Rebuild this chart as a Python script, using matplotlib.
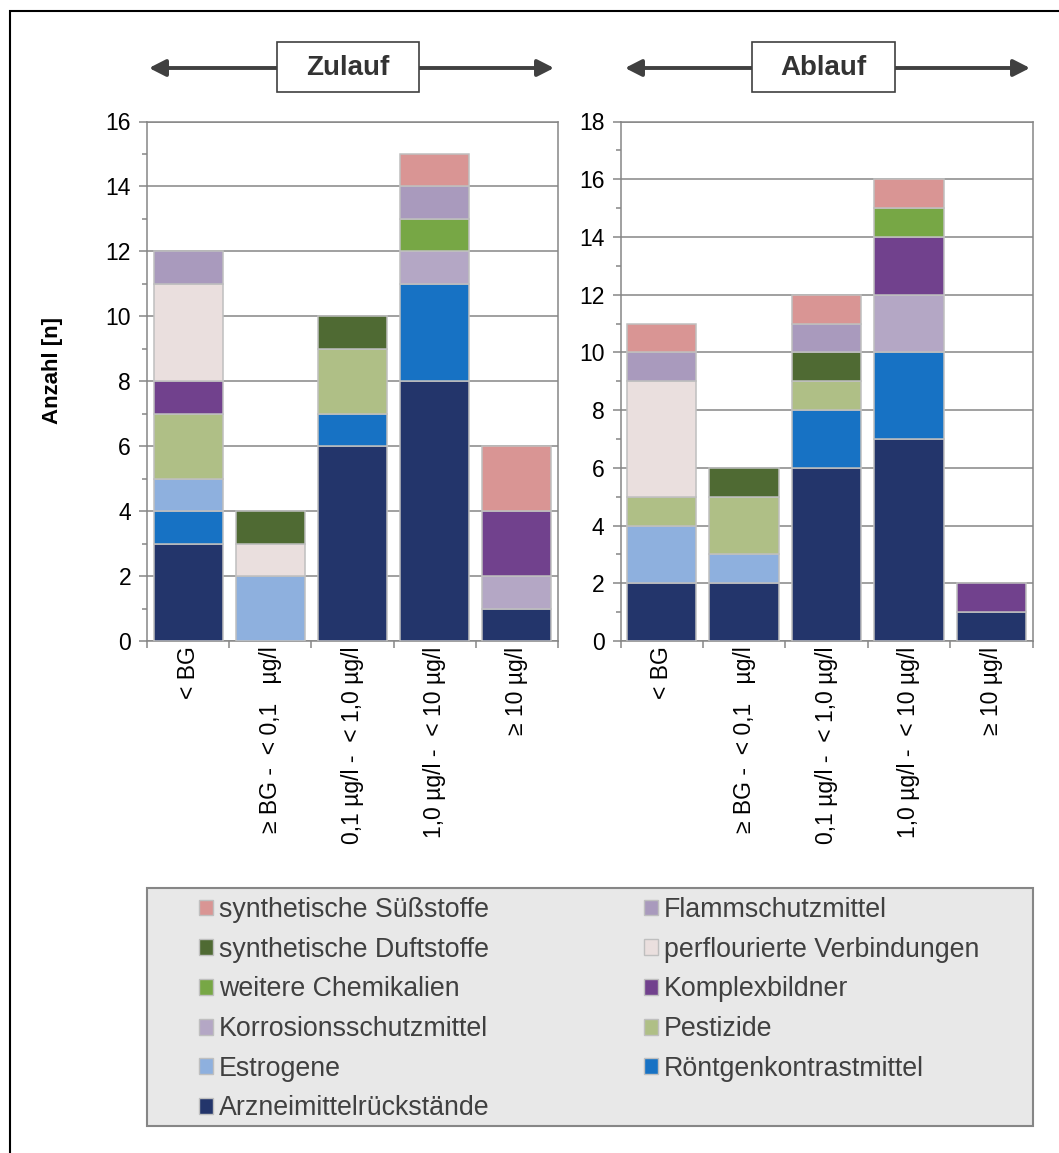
import matplotlib
matplotlib.use("Agg")
import matplotlib.pyplot as plt
from matplotlib.patches import Rectangle, Patch, FancyArrowPatch
from matplotlib.ticker import MultipleLocator, FixedLocator
import numpy as np

plt.rcParams['font.family'] = ['Liberation Sans', 'DejaVu Sans']

# ---- data -------------------------------------------------------------
categories = ['< BG', '≥ BG -  < 0,1   µg/l', '0,1 µg/l -  < 1,0 µg/l',
              '1,0 µg/l -  < 10 µg/l', '≥ 10 µg/l']

# substance groups, stacked bottom -> top
groups = ['Arzneimittelrückstände', 'Röntgenkontrastmittel', 'Estrogene',
          'Pestizide', 'Korrosionsschutzmittel', 'Komplexbildner',
          'weitere Chemikalien', 'perflourierte Verbindungen',
          'synthetische Duftstoffe', 'Flammschutzmittel',
          'synthetische Süßstoffe']

colors = ['#23356B', '#1772C4', '#8EB0DE', '#AFBF86', '#B4A7C5', '#71418D',
          '#77A745', '#EADFDE', '#4F6A33', '#A99ABD', '#D99594']

zulauf = {
    'Arzneimittelrückstände':      [3, 0, 6, 8, 1],
    'Röntgenkontrastmittel':       [1, 0, 1, 3, 0],
    'Estrogene':                   [1, 2, 0, 0, 0],
    'Pestizide':                   [2, 0, 2, 0, 0],
    'Korrosionsschutzmittel':      [0, 0, 0, 1, 1],
    'Komplexbildner':              [1, 0, 0, 0, 2],
    'weitere Chemikalien':         [0, 0, 0, 1, 0],
    'perflourierte Verbindungen':  [3, 1, 0, 0, 0],
    'synthetische Duftstoffe':     [0, 1, 1, 0, 0],
    'Flammschutzmittel':           [1, 0, 0, 1, 0],
    'synthetische Süßstoffe':      [0, 0, 0, 1, 2],
}

ablauf = {
    'Arzneimittelrückstände':      [2, 2, 6, 7, 1],
    'Röntgenkontrastmittel':       [0, 0, 2, 3, 0],
    'Estrogene':                   [2, 1, 0, 0, 0],
    'Pestizide':                   [1, 2, 1, 0, 0],
    'Korrosionsschutzmittel':      [0, 0, 0, 2, 0],
    'Komplexbildner':              [0, 0, 0, 2, 1],
    'weitere Chemikalien':         [0, 0, 0, 1, 0],
    'perflourierte Verbindungen':  [4, 0, 0, 0, 0],
    'synthetische Duftstoffe':     [0, 1, 1, 0, 0],
    'Flammschutzmittel':           [1, 0, 1, 0, 0],
    'synthetische Süßstoffe':      [1, 0, 1, 1, 0],
}

panel_titles = ['Zulauf', 'Ablauf']
y_limits = [16, 18]

# ---- figure -----------------------------------------------------------
W, H = 1059, 1153
fig = plt.figure(figsize=(W / 100, H / 100), dpi=100)

def fx(px):
    return px / W

def fy(py):
    return 1 - py / H

GRID = '#868686'
EDGE = '#BFBFBF'

axes_px = [(147, 558), (620.5, 1032.5)]
top_px, bottom_px = 121.5, 641

for (x0, x1), data, ymax in zip(axes_px, [zulauf, ablauf], y_limits):
    ax = fig.add_axes([fx(x0), fy(bottom_px), fx(x1 - x0), (bottom_px - top_px) / H])
    x = np.arange(len(categories))
    base = np.zeros(len(categories))
    for g, c in zip(groups, colors):
        vals = np.array(data[g], dtype=float)
        m = vals > 0
        ax.bar(x[m], vals[m], bottom=base[m], width=0.84, color=c,
               edgecolor=EDGE, linewidth=1.1, zorder=3)
        base += vals
    ax.set_xlim(-0.5, len(categories) - 0.5)
    ax.set_ylim(0, ymax)
    ax.yaxis.set_major_locator(MultipleLocator(2))
    ax.yaxis.set_minor_locator(MultipleLocator(1))
    ax.grid(axis='y', which='major', color=GRID, linewidth=1.1, zorder=0)
    ax.set_axisbelow(True)
    for s in ax.spines.values():
        s.set_color(GRID)
        s.set_linewidth(1.1)
    ax.set_xticks(x)
    ax.set_xticklabels(categories, rotation=90, fontsize=16.5)
    ax.xaxis.set_minor_locator(FixedLocator(np.arange(-0.5, len(categories), 1.0)))
    ax.tick_params(axis='x', which='major', length=0, pad=4)
    ax.tick_params(axis='x', which='minor', length=5, width=1.1, color=GRID, direction='out')
    ax.tick_params(axis='y', which='major', length=5.5, width=1.1, color=GRID,
                   labelsize=16.5, pad=6)
    ax.tick_params(axis='y', which='minor', length=3.5, width=1.1, color=GRID)
    if ymax == 16:
        ax.set_ylabel('Anzahl [n]', fontsize=16, fontweight='bold')
        ax.yaxis.set_label_coords((63 - x0) / (x1 - x0),
                                  (bottom_px - 370) / (bottom_px - top_px))

# ---- panel headers with double arrows ---------------------------------
header_boxes = [(277, 419, 149, 554), (752, 895, 625, 1030)]
box_top, box_bot, arrow_y = 42, 92, 68
for (bx0, bx1, ax0, ax1), title in zip(header_boxes, panel_titles):
    for start, end in [(bx0, ax0), (bx1, ax1)]:
        fig.add_artist(FancyArrowPatch((fx(start), fy(arrow_y)), (fx(end), fy(arrow_y)),
                                       transform=fig.transFigure,
                                       arrowstyle='-|>,head_length=0.55,head_width=0.28',
                                       mutation_scale=18, lw=2.8, color='#404040',
                                       shrinkA=0, shrinkB=0))
    fig.add_artist(Rectangle((fx(bx0), fy(box_bot)), fx(bx1 - bx0), (box_bot - box_top) / H,
                             transform=fig.transFigure, facecolor='white',
                             edgecolor='#404040', linewidth=1.2, zorder=5))
    fig.text(fx((bx0 + bx1) / 2), fy((box_top + box_bot) / 2 + 1), title,
             ha='center', va='center', fontsize=20, fontweight='bold',
             color='#333333', zorder=6)

# ---- legend -----------------------------------------------------------
fig.add_artist(Rectangle((fx(147), fy(1126)), fx(1033 - 147), (1126 - 888) / H,
                         transform=fig.transFigure, facecolor='#E8E8E8',
                         edgecolor=GRID, linewidth=1.5, zorder=0))

handle_of = {g: Patch(facecolor=c, edgecolor=EDGE, linewidth=1.0)
             for g, c in zip(groups, colors)}
col1 = ['synthetische Süßstoffe', 'synthetische Duftstoffe', 'weitere Chemikalien',
        'Korrosionsschutzmittel', 'Estrogene', 'Arzneimittelrückstände']
col2 = ['Flammschutzmittel', 'perflourierte Verbindungen', 'Komplexbildner',
        'Pestizide', 'Röntgenkontrastmittel']
for col, xpx in [(col1, 199), (col2, 644)]:
    fig.legend([handle_of[g] for g in col], col, loc='upper left',
               bbox_to_anchor=(fx(xpx), fy(897)), frameon=False, fontsize=19.3,
               handlelength=0.54, handleheight=0.54, handletextpad=0.2,
               labelspacing=0.51, borderpad=0, borderaxespad=0,
               labelcolor='#404040')

# ---- outer frame ------------------------------------------------------
fig.add_artist(Rectangle((fx(10), fy(1200)), fx(1100), (1200 - 11) / H,
                         transform=fig.transFigure, facecolor='none',
                         edgecolor='black', linewidth=1.5, zorder=10))

fig.savefig('out.png', dpi=100)
